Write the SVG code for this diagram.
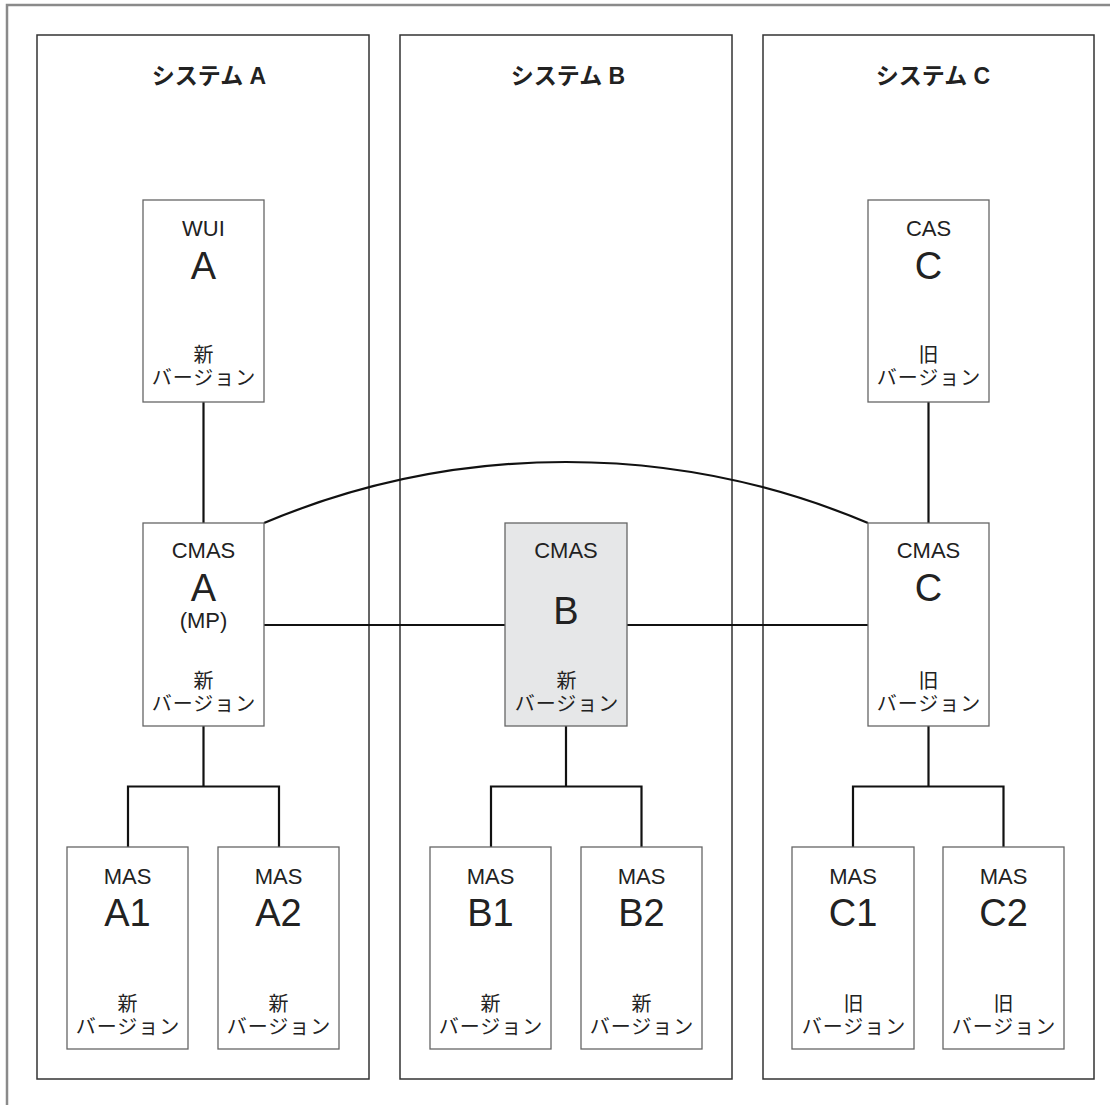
<svg xmlns="http://www.w3.org/2000/svg" width="1110" height="1105" viewBox="0 0 1110 1105">
<style>
.frame{fill:none;stroke:#8a8a8a;stroke-width:2.5}
.panel{fill:none;stroke:#333;stroke-width:1.5}
.box{fill:#fff;stroke:#666;stroke-width:1.3}
.shaded{fill:#e6e7e8}
.conn{fill:none;stroke:#111;stroke-width:2.2}
text{font-family:"Liberation Sans","Noto Sans CJK JP",sans-serif;fill:#222;text-anchor:middle}
.hdr{font-size:23px;font-weight:bold}
.lbl{font-size:22px}
.big{font-size:38px}
.jp{font-size:20px;letter-spacing:1px}
</style>
<rect class="frame" x="7" y="5" width="1120" height="1120"/>
<g id="panelA"><rect class="panel" x="37" y="35" width="332" height="1044"/><text class="hdr" x="209" y="84">システム A</text></g>
<g id="panelB"><rect class="panel" x="400" y="35" width="332" height="1044"/><text class="hdr" x="568" y="84">システム B</text></g>
<g id="panelC"><rect class="panel" x="763" y="35" width="331" height="1044"/><text class="hdr" x="933" y="84">システム C</text></g>
<g id="connectors">
<path class="conn" d="M203.5 402V523"/>
<path class="conn" d="M928.5 402V523"/>
<path class="conn" d="M264 523A778 778 0 0 1 868 523"/>
<path class="conn" d="M264 625H505M627 625H868"/>
<path class="conn" d="M203.5 726V786.5M128 847V786.5H279V847"/>
<path class="conn" d="M566 726V786.5M491 847V786.5H641.5V847"/>
<path class="conn" d="M928.5 726V786.5M853 847V786.5H1003.5V847"/>
</g>
<g id="wuiA"><rect class="box" x="143" y="200" width="121" height="202"/><text class="lbl" x="203.5" y="236">WUI</text><text class="big" x="203.5" y="279">A</text><text class="jp" x="204" y="362">新</text><text class="jp" x="204" y="385">バージョン</text></g>
<g id="casC"><rect class="box" x="868" y="200" width="121" height="202"/><text class="lbl" x="928.5" y="236">CAS</text><text class="big" x="928.5" y="279">C</text><text class="jp" x="929" y="362">旧</text><text class="jp" x="929" y="385">バージョン</text></g>
<g id="cmasA"><rect class="box" x="143" y="523" width="121" height="203"/><text class="lbl" x="203.5" y="558">CMAS</text><text class="big" x="203.5" y="601">A</text><text class="lbl" x="203.5" y="628">(MP)</text><text class="jp" x="204" y="688">新</text><text class="jp" x="204" y="711">バージョン</text></g>
<g id="cmasB"><rect class="box shaded" x="505" y="523" width="122" height="203"/><text class="lbl" x="566" y="558">CMAS</text><text class="big" x="566" y="624">B</text><text class="jp" x="567" y="688">新</text><text class="jp" x="567" y="711">バージョン</text></g>
<g id="cmasC"><rect class="box" x="868" y="523" width="121" height="203"/><text class="lbl" x="928.5" y="558">CMAS</text><text class="big" x="928.5" y="601">C</text><text class="jp" x="929" y="688">旧</text><text class="jp" x="929" y="711">バージョン</text></g>
<g id="masA1"><rect class="box" x="67" y="847" width="121" height="202"/><text class="lbl" x="127.5" y="884">MAS</text><text class="big" x="127.5" y="926">A1</text><text class="jp" x="128" y="1011">新</text><text class="jp" x="128" y="1034">バージョン</text></g>
<g id="masA2"><rect class="box" x="218" y="847" width="121" height="202"/><text class="lbl" x="278.5" y="884">MAS</text><text class="big" x="278.5" y="926">A2</text><text class="jp" x="279" y="1011">新</text><text class="jp" x="279" y="1034">バージョン</text></g>
<g id="masB1"><rect class="box" x="430" y="847" width="121" height="202"/><text class="lbl" x="490.5" y="884">MAS</text><text class="big" x="490.5" y="926">B1</text><text class="jp" x="491" y="1011">新</text><text class="jp" x="491" y="1034">バージョン</text></g>
<g id="masB2"><rect class="box" x="581" y="847" width="121" height="202"/><text class="lbl" x="641.5" y="884">MAS</text><text class="big" x="641.5" y="926">B2</text><text class="jp" x="642" y="1011">新</text><text class="jp" x="642" y="1034">バージョン</text></g>
<g id="masC1"><rect class="box" x="792" y="847" width="122" height="202"/><text class="lbl" x="853" y="884">MAS</text><text class="big" x="853" y="926">C1</text><text class="jp" x="854" y="1011">旧</text><text class="jp" x="854" y="1034">バージョン</text></g>
<g id="masC2"><rect class="box" x="943" y="847" width="121" height="202"/><text class="lbl" x="1003.5" y="884">MAS</text><text class="big" x="1003.5" y="926">C2</text><text class="jp" x="1004" y="1011">旧</text><text class="jp" x="1004" y="1034">バージョン</text></g>
</svg>
